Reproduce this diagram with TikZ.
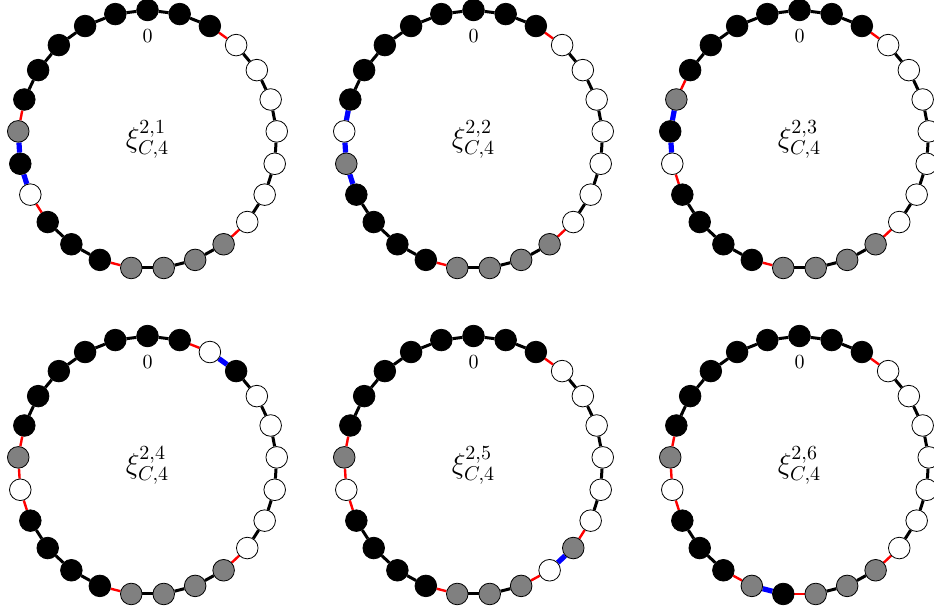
\documentclass[tikz,border=0pt]{standalone}
\usetikzlibrary{calc,backgrounds}
\tikzset{
  dot/.style={circle,draw=black,line width=0.4pt,inner sep=0pt,minimum size=10.8pt},
  ek/.style={draw=black,line width=1.5pt},
  er/.style={draw=red,line width=1.2pt},
  eb/.style={draw=blue,line width=2.6pt},
}
% #1 name, #2 centre, #3 node fills, #4 edge styles, #5 superscript index
\newcommand\myring[5]{%
  \coordinate (#1) at (#2);
  \foreach \c [count=\i from 0] in {#3} {
    \node[dot,fill=\c] (#1-\i) at ($(#1)+(14.4*\i-90:129.5)$) {};
  }
  \begin{pgfonlayer}{background}
  \foreach \e [count=\i from 0] in {#4} {
    \pgfmathtruncatemacro\j{mod(\i+1,25)}
    \draw[e\e] (#1-\i) -- (#1-\j);
  }
  \end{pgfonlayer}
  \node[inner sep=0pt] (#1-zero) at ($(#1)+(0,-103.2)$) {0};
  \node (#1-lab) at (#1) {\Large$\xi^{2,#5}_{C,4}$};
}
\begin{document}
\begin{tikzpicture}[x=0.5pt,y=-0.5pt]
\useasboundingbox (0,0) rectangle (934,612);
\myring{c1}{147.5,139.5}
  {black,black,black,white,white,white,white,white,white,white,gray,gray,gray,gray,black,black,black,white,black,gray,black,black,black,black,black}
  {k,k,r,k,k,k,k,k,k,r,k,k,k,r,k,k,r,b,b,r,k,k,k,k,k}{1}
\myring{c2}{473.5,139.5}
  {black,black,black,white,white,white,white,white,white,white,gray,gray,gray,gray,black,black,black,black,gray,white,black,black,black,black,black}
  {k,k,r,k,k,k,k,k,k,r,k,k,k,r,k,k,k,b,b,b,k,k,k,k,k}{2}
\myring{c3}{799.5,139.5}
  {black,black,black,white,white,white,white,white,white,white,gray,gray,gray,gray,black,black,black,black,white,black,gray,black,black,black,black}
  {k,k,r,k,k,k,k,k,k,r,k,k,k,r,k,k,k,r,b,b,r,k,k,k,k}{3}
\myring{c4}{147.5,465.5}
  {black,black,white,black,white,white,white,white,white,white,gray,gray,gray,gray,black,black,black,black,white,gray,black,black,black,black,black}
  {k,r,b,k,k,k,k,k,k,r,k,k,k,r,k,k,k,r,r,r,k,k,k,k,k}{4}
\myring{c5}{473.5,465.5}
  {black,black,black,white,white,white,white,white,white,gray,white,gray,gray,gray,black,black,black,black,white,gray,black,black,black,black,black}
  {k,k,r,k,k,k,k,k,r,b,r,k,k,r,k,k,k,r,r,r,k,k,k,k,k}{5}
\myring{c6}{799.5,465.5}
  {black,black,black,white,white,white,white,white,white,white,gray,gray,gray,black,gray,black,black,black,white,gray,black,black,black,black,black}
  {k,k,r,k,k,k,k,k,k,r,k,k,r,b,r,k,k,r,r,r,k,k,k,k,k}{6}
\end{tikzpicture}
\end{document}
